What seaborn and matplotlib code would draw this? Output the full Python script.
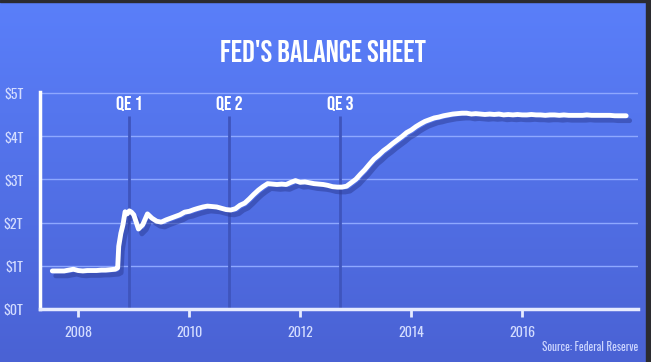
import numpy as np
import pandas as pd
import matplotlib
matplotlib.use('Agg')
import matplotlib.pyplot as plt
import matplotlib.patheffects as pe
from matplotlib.patches import Rectangle
import seaborn as sns

# Fed balance sheet, trillions of dollars
dates = ['2007-07-15', '2007-08-01', '2007-09-01', '2007-10-01', '2007-11-01', '2007-12-01',
         '2008-01-01', '2008-02-01', '2008-03-01', '2008-04-01', '2008-05-01', '2008-06-01',
         '2008-07-01', '2008-08-01', '2008-09-01', '2008-09-17', '2008-09-24', '2008-10-08',
         '2008-10-22', '2008-11-05', '2008-11-19', '2008-12-03', '2008-12-17',
         '2009-01-01', '2009-02-01', '2009-03-01', '2009-04-01', '2009-05-01', '2009-06-01',
         '2009-07-01', '2009-08-01', '2009-09-01', '2009-10-01', '2009-11-01', '2009-12-01',
         '2010-01-01', '2010-02-01', '2010-03-01', '2010-04-01', '2010-05-01', '2010-06-01',
         '2010-07-01', '2010-08-01', '2010-09-01', '2010-10-01', '2010-11-01', '2010-12-01',
         '2011-01-01', '2011-02-01', '2011-03-01', '2011-04-01', '2011-05-01', '2011-06-01',
         '2011-07-01', '2011-08-01', '2011-09-01', '2011-10-01', '2011-11-01', '2011-12-01',
         '2012-01-01', '2012-02-01', '2012-03-01', '2012-04-01', '2012-05-01', '2012-06-01',
         '2012-07-01', '2012-08-01', '2012-09-01', '2012-10-01', '2012-11-01', '2012-12-01',
         '2013-01-01', '2013-02-01', '2013-03-01', '2013-04-01', '2013-05-01', '2013-06-01',
         '2013-07-01', '2013-08-01', '2013-09-01', '2013-10-01', '2013-11-01', '2013-12-01',
         '2014-01-01', '2014-02-01', '2014-03-01', '2014-04-01', '2014-05-01', '2014-06-01',
         '2014-07-01', '2014-08-01', '2014-09-01', '2014-10-01', '2014-11-01', '2014-12-01',
         '2015-01-01', '2015-02-01', '2015-03-01', '2015-04-01', '2015-05-01', '2015-06-01',
         '2015-07-01', '2015-08-01', '2015-09-01', '2015-10-01', '2015-11-01', '2015-12-01',
         '2016-01-01', '2016-02-01', '2016-03-01', '2016-04-01', '2016-05-01', '2016-06-01',
         '2016-07-01', '2016-08-01', '2016-09-01', '2016-10-01', '2016-11-01', '2016-12-01',
         '2017-01-01', '2017-02-01', '2017-03-01', '2017-04-01', '2017-05-01', '2017-06-01',
         '2017-07-01', '2017-08-01', '2017-09-01', '2017-10-01', '2017-11-15']
values = [0.88, 0.88, 0.88, 0.88, 0.90, 0.92,
          0.89, 0.88, 0.89, 0.89, 0.89, 0.90,
          0.90, 0.91, 0.92, 0.95, 1.45, 1.75,
          1.95, 2.25, 2.20, 2.27, 2.24,
          2.18, 1.85, 1.95, 2.20, 2.10, 2.03,
          2.01, 2.06, 2.10, 2.14, 2.18, 2.24,
          2.26, 2.30, 2.33, 2.36, 2.38, 2.37,
          2.36, 2.33, 2.30, 2.29, 2.32, 2.40,
          2.45, 2.55, 2.65, 2.75, 2.83, 2.90,
          2.89, 2.88, 2.89, 2.88, 2.93, 2.97,
          2.93, 2.94, 2.92, 2.90, 2.89, 2.88,
          2.86, 2.83, 2.82, 2.82, 2.84, 2.92,
          3.00, 3.12, 3.22, 3.35, 3.47, 3.56,
          3.66, 3.74, 3.83, 3.91, 3.99, 4.08,
          4.14, 4.22, 4.28, 4.34, 4.38, 4.42,
          4.44, 4.47, 4.49, 4.51, 4.52, 4.53,
          4.53, 4.51, 4.52, 4.51, 4.50, 4.51,
          4.50, 4.51, 4.49, 4.50, 4.49, 4.50,
          4.49, 4.49, 4.50, 4.49, 4.49, 4.48,
          4.49, 4.49, 4.48, 4.49, 4.48, 4.48,
          4.48, 4.48, 4.49, 4.48, 4.48, 4.48,
          4.48, 4.48, 4.47, 4.47, 4.47]

qe_labels = ['QE 1', 'QE 2', 'QE 3']
qe_dates = ['2008-12-01', '2010-09-20', '2012-09-20']
year_ticks = ['2008', '2010', '2012', '2014', '2016']
y_ticks = [0, 1, 2, 3, 4, 5]
y_labels = ['$0T', '$1T', '$2T', '$3T', '$4T', '$5T']

df = pd.DataFrame({'date': pd.to_datetime(dates), 'value': values})

sns.set_style('white')
head_font = ['Bebas Neue', 'Oswald', 'Archivo Narrow', 'DejaVu Sans']
tick_font = ['Oswald', 'Archivo Narrow', 'DejaVu Sans']
plt.rcParams['font.family'] = tick_font

fig = plt.figure(figsize=(6.51, 3.62), dpi=100)

# gradient background
bg = fig.add_axes([0, 0, 1, 1], zorder=0)
top = np.array([0x5a, 0x7f, 0xfa]) / 255
bot = np.array([0x4a, 0x62, 0xd4]) / 255
t = np.linspace(0, 1, 256)[:, None]
grad = (top * (1 - t) + bot * t)[:, None, :]
bg.imshow(grad, aspect='auto', extent=[0, 1, 0, 1])
bg.set_xlim(0, 1)
bg.set_ylim(0, 1)
bg.axis('off')
fig.patches.append(Rectangle((646 / 651, 0), 5 / 651, 1, transform=fig.transFigure,
                             color='#2b2b30', zorder=5))
fig.patches.append(Rectangle((0, 1 - 1.5 / 362), 1, 1.5 / 362, transform=fig.transFigure,
                             color='#2b2b30', zorder=5))

ax = fig.add_axes([40 / 651, 53 / 362, 598 / 651, 217 / 362], zorder=1)
ax.set_facecolor('none')

for y in y_ticks[1:]:
    ax.axhline(y, color='#8ea8ff', lw=1, zorder=1)

for d in qe_dates:
    ax.vlines(pd.Timestamp(d), 0, 4.47, color='#3f55bd', lw=2, zorder=2)

sns.lineplot(data=df, x='date', y='value', ax=ax, color='white', lw=3.5, zorder=3,
             path_effects=[pe.SimpleLineShadow(offset=(2.5, -3.5), shadow_color='#2e3f9a', alpha=0.55),
                           pe.Normal()])

for lab, d in zip(qe_labels, qe_dates):
    ax.text(pd.Timestamp(d), 4.75, lab, ha='center', va='center', color='white',
            fontsize=14.5, family=head_font)

ax.set_xlim(pd.Timestamp('2007-04-25'), pd.Timestamp('2018-02-01'))
ax.set_ylim(0, 5.02)
ax.set_xticks(pd.to_datetime([y + '-01-01' for y in year_ticks]))
ax.set_xticklabels(year_ticks)
ax.set_yticks(y_ticks)
ax.set_yticklabels(y_labels)
ax.set_xlabel('')
ax.set_ylabel('')

ax.tick_params(axis='x', length=6, width=2, color='#e6ebff', labelcolor='#d3dcff',
               labelsize=10, pad=6, direction='out', bottom=True)
ax.tick_params(axis='y', length=0, labelcolor='#d3dcff', labelsize=10, pad=12)
for lab in ax.get_xticklabels() + ax.get_yticklabels():
    lab.set_fontweight('light')

for s in ['top', 'right']:
    ax.spines[s].set_visible(False)
ax.spines['left'].set_color('white')
ax.spines['left'].set_linewidth(2.5)
ax.spines['bottom'].set_color('#e6ebff')
ax.spines['bottom'].set_linewidth(2.5)

fig.text(323 / 651, 1 - 51 / 362, "FED'S BALANCE SHEET", ha='center', va='center',
         color='white', fontsize=22.5, family=head_font)
fig.text(638 / 651, 1 - 347 / 362, 'Source: Federal Reserve', ha='right', va='center',
         color='#cdd6ff', fontsize=8, fontweight='light', family=tick_font)

fig.savefig('out.png', dpi=100)
